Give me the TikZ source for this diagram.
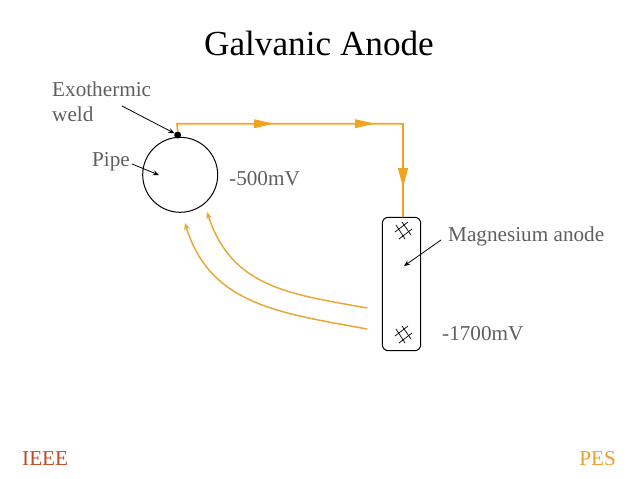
\documentclass[tikz,border=0pt]{standalone}
\usepackage{fontspec}
\setmainfont{Liberation Serif}
\usepackage{tikz}
\usetikzlibrary{arrows.meta}
\usepackage{xcolor}
\definecolor{wireorange}{HTML}{F2A31F}
\definecolor{curveorange}{HTML}{E9A83C}
\definecolor{labelgray}{HTML}{5F5F5F}
\definecolor{ieeered}{HTML}{BE4B22}
\definecolor{pesorange}{HTML}{E8A030}
\tikzset{
  label text/.style={anchor=base west,inner sep=0pt,text=labelgray,font=\fontsize{21.2}{21.2}\selectfont},
  wire/.style={wireorange,line width=1.6pt},
  flow tip/.style={-{Triangle[length=20pt,width=8.5pt]}},
  return curve/.style={curveorange,line width=1.5pt,-{Stealth[length=7pt,width=6pt]}},
  pointer/.style={black,line width=0.8pt,-{Stealth[length=6pt,width=5pt]}},
  hatch/.style={black,line width=0.7pt}
}
\begin{document}
\begin{tikzpicture}[x=1pt,y=-1pt,line cap=round]
\useasboundingbox (0,0) rectangle (638,479);
\node[anchor=base,inner sep=0pt,font=\fontsize{35.2}{35.2}\selectfont] (title) at (319,56) {Galvanic Anode};
% pipe and weld
\node[circle,draw=black,line width=1pt,minimum size=75pt,inner sep=0pt] (pipe) at (180.2,174.8) {};
\node[circle,fill=black,minimum size=7pt,inner sep=0pt] (weld) at (177.7,135) {};
% anode
\node[draw=black,line width=1pt,rounded corners=6pt,minimum width=38.4pt,minimum height=133.4pt,inner sep=0pt] (anode) at (401.5,284) {};
\foreach \y in {0,104}{
\draw[hatch] (395,232+\y) -- (408,222+\y);
\draw[hatch] (399,239+\y) -- (412,229+\y);
\draw[hatch] (396,225+\y) -- (405,239+\y);
\draw[hatch] (402,222+\y) -- (411,235+\y);
}
% orange wire
\coordinate (cornerA) at (177,123.7);
\coordinate (tipA) at (274,123.7);
\coordinate (tipB) at (375,123.7);
\coordinate (cornerB) at (403,123.7);
\coordinate (tipC) at (403,187);
\draw[wire,line cap=butt] (weld.north) -- (cornerA) -- (cornerB) -- (403,217);
\draw[wire,flow tip,line cap=butt] (254,123.7) -- (tipA);
\draw[wire,flow tip,line cap=butt] (355,123.7) -- (tipB);
\draw[wire,line cap=butt,-{Triangle[length=19pt,width=10pt]}] (403,168) -- (tipC);
% return paths
\coordinate (lowerStart) at (367,329);
\coordinate (lowerEnd) at (185,223);
\coordinate (upperStart) at (367,308);
\coordinate (upperEnd) at (207,212);
\draw[return curve] (lowerStart) .. controls (280,313) and (210,305) .. (lowerEnd);
\draw[return curve] (upperStart) .. controls (290,294) and (232,288) .. (upperEnd);
% labels
\node[label text] (exo) at (52,96) {Exothermic};
\node[label text] (weldlabel) at (52,121.5) {weld};
\node[label text] (pipelabel) at (92,166.7) {Pipe};
\node[label text] (pipemv) at (229,185) {-500mV};
\node[label text] (mglabel) at (448,241) {Magnesium anode};
\node[label text] (anodemv) at (442,340) {-1700mV};
\node[label text,text=ieeered] (ieee) at (22,465) {IEEE};
\node[anchor=base east,inner sep=0pt,text=pesorange,font=\fontsize{21.2}{21.2}\selectfont] (pes) at (616,465) {PES};
% pointers
\coordinate (exoFrom) at (122,106);
\coordinate (pipeFrom) at (132,164);
\coordinate (pipeTo) at (159,175);
\coordinate (mgFrom) at (441,240);
\coordinate (mgTo) at (404,266);
\draw[pointer] (exoFrom) -- (weld);
\draw[pointer] (pipeFrom) -- (pipeTo);
\draw[pointer] (mgFrom) -- (mgTo);
\end{tikzpicture}
\end{document}
